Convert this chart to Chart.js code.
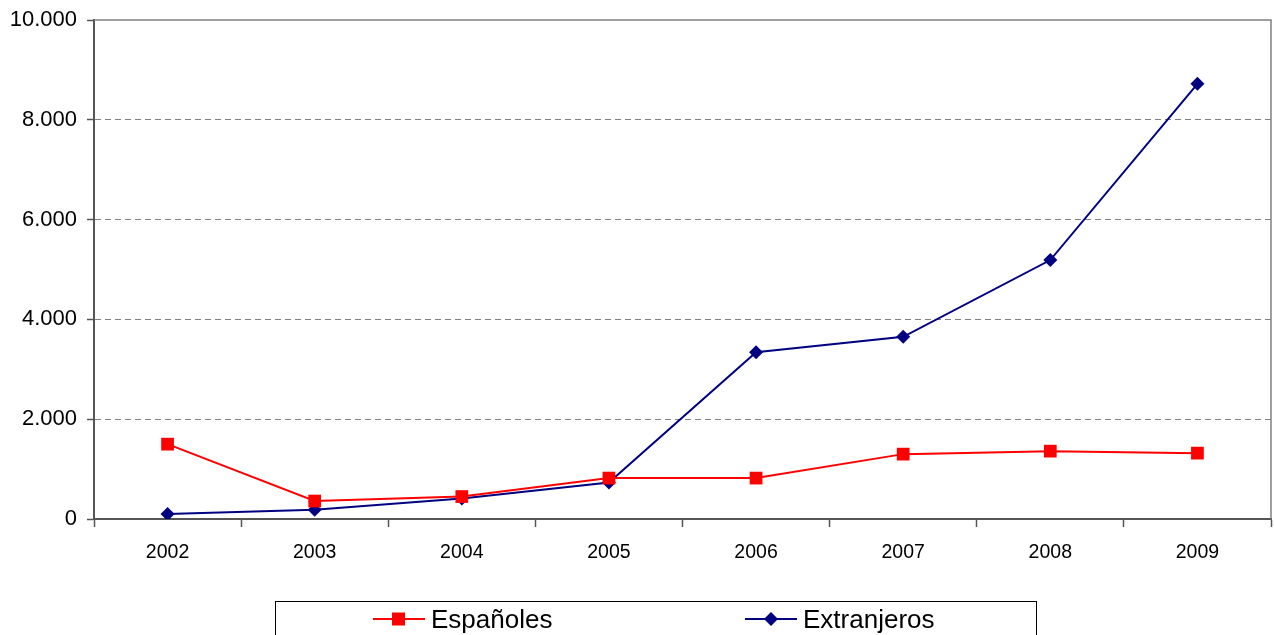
<!DOCTYPE html>
<html>
<head>
<meta charset="utf-8">
<script src="https://cdn.jsdelivr.net/npm/chart.js@4"></script>
<style>
  html, body { margin: 0; padding: 0; background: #fff; }
  #wrap { width: 1274px; height: 635px; }
</style>
</head>
<body>
<div id="wrap"><canvas id="chart" width="1274" height="635"></canvas></div>
<script>
const years = ['2002', '2003', '2004', '2005', '2006', '2007', '2008', '2009'];
const espanoles = [1500, 360, 450, 820, 820, 1300, 1360, 1320];
const extranjeros = [100, 185, 410, 730, 3340, 3650, 5190, 8720];
const yTicks = [0, 2000, 4000, 6000, 8000, 10000];

const RED = '#ff0000';
const NAVY = '#000080';
const AXIS = '#555555';
const GRID = '#808080';

function fmt(v) {
    return v.toLocaleString('de-DE');
}

// top / right frame of the plot area
const framePlugin = {
    id: 'frame',
    beforeDatasetsDraw(chart) {
        const a = chart.chartArea;
        const ctx = chart.ctx;
        ctx.save();
        ctx.strokeStyle = GRID;
        ctx.lineWidth = 1.5;
        ctx.beginPath();
        ctx.moveTo(a.left, a.top);
        ctx.lineTo(a.right, a.top);
        ctx.lineTo(a.right, a.bottom);
        ctx.stroke();
        ctx.restore();
    }
};

// boxed legend at the bottom, line + marker symbols
const legendPlugin = {
    id: 'boxLegend',
    afterDraw(chart) {
        const ctx = chart.ctx;
        ctx.save();
        ctx.strokeStyle = '#000';
        ctx.lineWidth = 1;
        ctx.strokeRect(275.5, 601.5, 761, 45);

        const items = [
            { ds: 0, x: 373, text: 'Españoles' },
            { ds: 1, x: 745, text: 'Extranjeros' }
        ];
        const y = 619;
        items.forEach(it => {
            const ds = chart.data.datasets[it.ds];
            ctx.strokeStyle = ds.borderColor;
            ctx.lineWidth = 2;
            ctx.beginPath();
            ctx.moveTo(it.x, y);
            ctx.lineTo(it.x + 52, y);
            ctx.stroke();
            ctx.fillStyle = ds.pointBackgroundColor;
            if (ds.pointStyle === 'rect') {
                ctx.fillRect(it.x + 19, y - 6.5, 13, 13);
            } else {
                const cx = it.x + 26;
                ctx.beginPath();
                ctx.moveTo(cx, y - 7);
                ctx.lineTo(cx + 7, y);
                ctx.lineTo(cx, y + 7);
                ctx.lineTo(cx - 7, y);
                ctx.closePath();
                ctx.fill();
            }
            ctx.fillStyle = '#000';
            ctx.font = '26px "Liberation Sans", Arial, sans-serif';
            ctx.textBaseline = 'alphabetic';
            ctx.fillText(it.text, it.x + 58, 628);
        });
        ctx.restore();
    }
};

new Chart(document.getElementById('chart'), {
    type: 'line',
    data: {
        labels: years,
        datasets: [{
            label: 'Españoles',
            data: espanoles,
            borderColor: RED,
            backgroundColor: RED,
            pointBackgroundColor: RED,
            pointBorderColor: RED,
            pointStyle: 'rect',
            pointRadius: 9,
            pointBorderWidth: 0,
            borderWidth: 2,
            tension: 0
        }, {
            label: 'Extranjeros',
            data: extranjeros,
            borderColor: NAVY,
            backgroundColor: NAVY,
            pointBackgroundColor: NAVY,
            pointBorderColor: NAVY,
            pointStyle: 'rectRot',
            pointRadius: 7,
            pointBorderWidth: 0,
            borderWidth: 2,
            tension: 0
        }]
    },
    options: {
        responsive: false,
        animation: false,
        devicePixelRatio: 1,
        layout: { autoPadding: false, padding: { top: 20, right: 3, bottom: 0, left: 0 } },
        plugins: {
            legend: { display: false },
            tooltip: { enabled: false }
        },
        scales: {
            x: {
                offset: true,
                grid: {
                    offset: true,
                    drawOnChartArea: false,
                    tickLength: 8,
                    tickColor: AXIS,
                    tickWidth: 1.5
                },
                border: { color: AXIS, width: 2 },
                ticks: {
                    color: '#000',
                    font: { family: '"Liberation Sans", Arial, sans-serif', size: 19.5 },
                    padding: 14,
                    maxRotation: 0
                },
                afterFit(scale) {
                    scale.height = 116;
                    scale.paddingLeft = 0;
                    scale.paddingRight = 0;
                }
            },
            y: {
                min: 0,
                max: 10000,
                afterBuildTicks(scale) {
                    scale.ticks = yTicks.map(v => ({ value: v }));
                },
                grid: {
                    color: ctx => (ctx.tick && (ctx.tick.value === 0 || ctx.tick.value === 10000)) ? 'rgba(0,0,0,0)' : GRID,
                    lineWidth: 1,
                    tickLength: 7,
                    tickColor: AXIS,
                    tickWidth: 1.5
                },
                border: { color: AXIS, width: 2, dash: [6, 4] },
                ticks: {
                    color: '#000',
                    font: { family: '"Liberation Sans", Arial, sans-serif', size: 22 },
                    padding: 10,
                    callback: v => fmt(v)
                },
                afterFit(scale) {
                    scale.width = 94;
                    scale.paddingTop = 0;
                    scale.paddingBottom = 0;
                }
            }
        }
    },
    plugins: [framePlugin, legendPlugin]
});
</script>
</body>
</html>
